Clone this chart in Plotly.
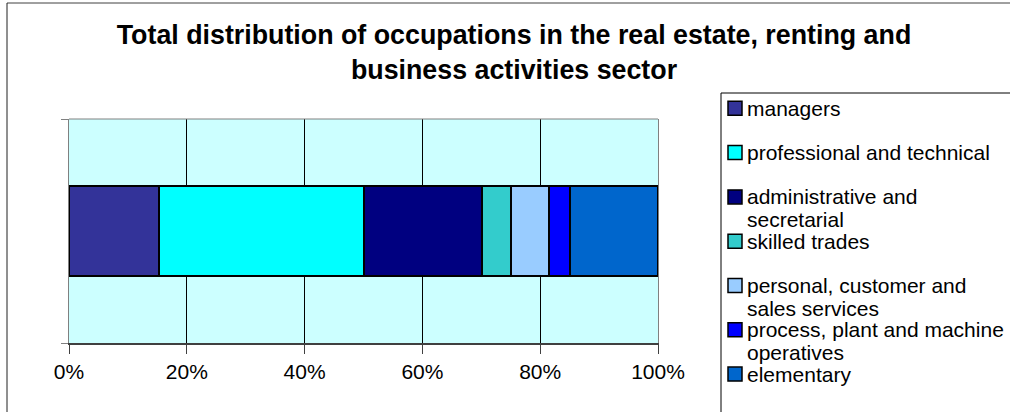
import plotly.graph_objects as go

# ---------------- data ----------------
categories = [
    "managers",
    "professional and technical",
    "administrative and secretarial",
    "skilled trades",
    "personal, customer and sales services",
    "process, plant and machine operatives",
    "elementary",
]
legend_lines = [
    ["managers"],
    ["professional and technical"],
    ["administrative and", "secretarial"],
    ["skilled trades"],
    ["personal, customer and", "sales services"],
    ["process, plant and machine", "operatives"],
    ["elementary"],
]
shares = [15.2, 34.9, 20.0, 4.9, 6.5, 3.6, 14.9]
colors = ["#333399", "#00FFFF", "#000080", "#33CCCC", "#99CCFF", "#0000FF", "#0066CC"]
x_ticks = [0, 20, 40, 60, 80, 100]
x_tick_labels = ["0%", "20%", "40%", "60%", "80%", "100%"]
title_text = ("Total distribution of occupations in the real estate, renting and"
              "<br>business activities sector")

# ---------------- layout geometry (pixels) ----------------
W, H = 1010, 412
PL, PR, PT, PB = 69, 658, 119, 343
FONT = "Liberation Sans, Arial, sans-serif"


def fx(px):
    return (px - PL) / (PR - PL)


def fy(py):
    return (PB - py) / (PB - PT)


fig = go.Figure()
for name, val, col in zip(categories, shares, colors):
    fig.add_trace(go.Bar(
        x=[val], y=[0], orientation="h", name=name, width=0.4,
        marker=dict(color=col, line=dict(color="black", width=2)),
        showlegend=False,
    ))

shapes = []
annotations = []

# chart outer border (top and left visible)
shapes.append(dict(type="line", xref="paper", yref="paper",
                   x0=fx(7), x1=fx(1015), y0=fy(3), y1=fy(3),
                   line=dict(color="#404040", width=1)))
shapes.append(dict(type="line", xref="paper", yref="paper",
                   x0=fx(7), x1=fx(7), y0=fy(3), y1=fy(420),
                   line=dict(color="#202020", width=1)))
# plot area top border
shapes.append(dict(type="line", xref="paper", yref="paper",
                   x0=0, x1=1, y0=1, y1=1,
                   line=dict(color="#808080", width=1)))

# legend box (top and left visible)
LX, LY = 721, 93
shapes.append(dict(type="line", xref="paper", yref="paper",
                   x0=fx(LX), x1=fx(1015), y0=fy(LY), y1=fy(LY),
                   line=dict(color="black", width=1)))
shapes.append(dict(type="line", xref="paper", yref="paper",
                   x0=fx(LX), x1=fx(LX), y0=fy(LY), y1=fy(420),
                   line=dict(color="black", width=1)))

ROW0, ROWSTEP, LINESTEP = 108.3, 44.3, 22.7
for i, (lines, col) in enumerate(zip(legend_lines, colors)):
    cy = ROW0 + ROWSTEP * i
    shapes.append(dict(type="rect", xref="paper", yref="paper",
                       x0=fx(728), x1=fx(742), y0=fy(cy - 7), y1=fy(cy + 7),
                       fillcolor=col, line=dict(color="black", width=1.5)))
    for j, ln in enumerate(lines):
        annotations.append(dict(
            text=ln, xref="paper", yref="paper", x=fx(745), y=fy(cy + j * LINESTEP),
            xanchor="left", yanchor="middle", showarrow=False,
            font=dict(family=FONT, size=21, color="black"),
        ))

fig.update_layout(
    width=W, height=H,
    margin=dict(l=PL, r=W - PR, t=PT, b=H - PB, pad=0),
    paper_bgcolor="white",
    plot_bgcolor="#CCFFFF",
    barmode="stack",
    bargap=0.6,
    showlegend=False,
    title=dict(text=title_text, x=514 / W, xanchor="center", xref="container",
               y=1 - 44 / H, yanchor="top", yref="container",
               font=dict(family=FONT, size=26.8, color="black", weight="bold")),
    xaxis=dict(range=[0, 100], tickvals=x_ticks, ticktext=x_tick_labels,
               showgrid=True, gridcolor="black", gridwidth=1, zeroline=False,
               showline=True, linecolor="#404040", linewidth=2,
               ticks="outside", ticklen=9, tickcolor="#404040", tickwidth=1,
               tickfont=dict(family=FONT, size=21, color="black"),
               fixedrange=True),
    yaxis=dict(range=[-0.5, 0.5], tickvals=[-0.5, 0.5], showticklabels=False,
               showgrid=False, zeroline=False,
               showline=True, linecolor="#808080", linewidth=1, mirror=True,
               ticks="outside", ticklen=7, tickcolor="#808080",
               fixedrange=True),
    shapes=shapes,
    annotations=annotations,
)

fig.write_html(
    "out.html",
    config={"displayModeBar": False},
    post_script="document.body.style.margin='0';document.body.style.overflow='hidden';",
)
